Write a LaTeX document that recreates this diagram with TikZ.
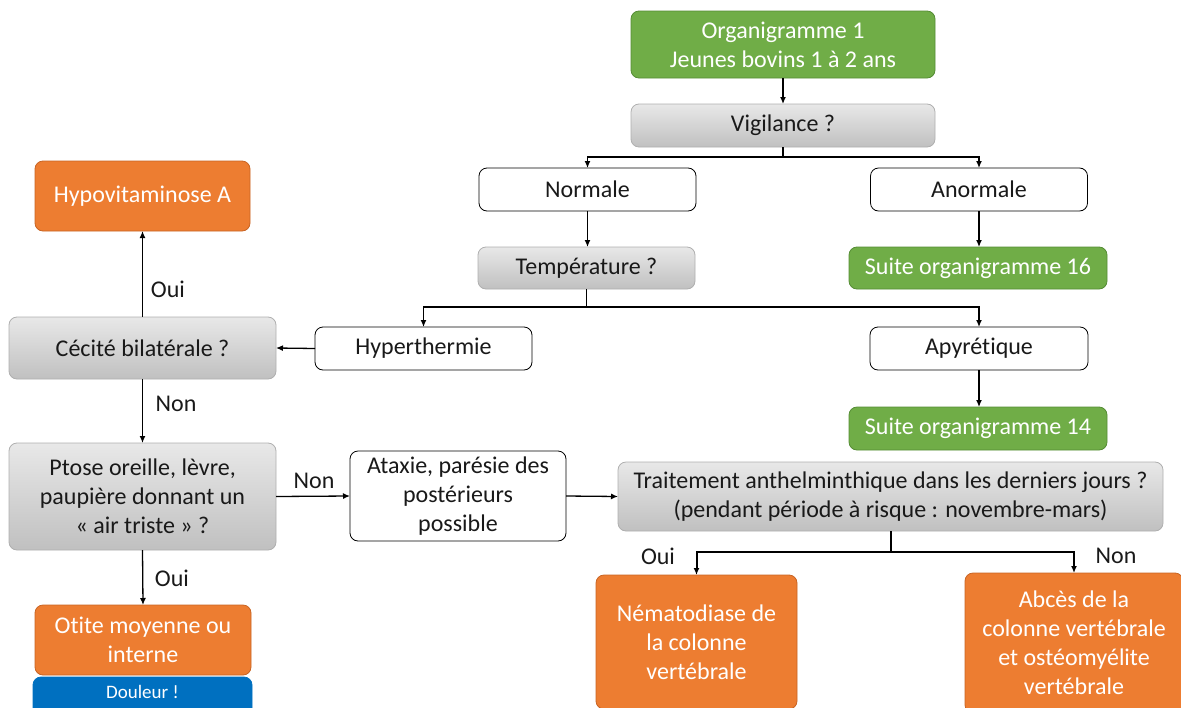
\documentclass[tikz,border=0pt]{standalone}
\usepackage{fontspec}
\setmainfont{Carlito}[Ligatures=NoCommon]
\usetikzlibrary{arrows.meta}
\definecolor{grnfill}{RGB}{112,173,71}
\definecolor{grnline}{RGB}{84,140,52}
\definecolor{orgfill}{RGB}{237,125,49}
\definecolor{orgline}{RGB}{200,100,35}
\definecolor{bluefill}{RGB}{0,112,192}
\definecolor{graytop}{RGB}{232,232,232}
\definecolor{graybot}{RGB}{192,192,192}
\definecolor{grayline}{RGB}{175,175,175}
\definecolor{txt}{RGB}{25,25,25}
\newcommand{\mainfs}{\fontsize{24}{29}\selectfont}
\tikzset{
  box/.style={rounded corners=8pt, inner sep=0pt, outer sep=0pt, align=center,
              font=\mainfs, line width=0.8pt},
  whitebox/.style={box, draw=black, fill=white, text=txt},
  graybox/.style={box, draw=grayline, top color=graytop, bottom color=graybot, text=txt},
  greenbox/.style={box, draw=grnline, fill=grnfill, text=white},
  orangebox/.style={box, draw=orgline, fill=orgfill, text=white},
  bluebox/.style={box, draw=bluefill, fill=bluefill},
  arr/.style={line width=1.3pt, -{Latex[length=7pt,width=6pt]}},
  thickarr/.style={line width=2pt, -{Latex[length=7pt,width=6pt]}},
  lbl/.style={font=\mainfs, text=txt, inner sep=0pt}
}
\begin{document}
\begin{tikzpicture}[x=1pt,y=-1pt]
\useasboundingbox (0,0) rectangle (1181,707);
\clip (0,0) rectangle (1181,707);

% top of the chart
\node[greenbox, minimum width=304, minimum height=67] (org) at (783,44.5)
  {Organigramme 1\\Jeunes bovins 1 à 2 ans};
\node[graybox, minimum width=304, minimum height=43] (vig) at (783,125.5) {Vigilance ?};
\node[whitebox, minimum width=217, minimum height=43] (norm) at (587.5,189.5) {Normale};
\node[whitebox, minimum width=217, minimum height=43] (anorm) at (979,189.5) {Anormale};
\node[graybox, minimum width=217, minimum height=42] (temp) at (586.5,268) {Température ?};
\node[greenbox, minimum width=258, minimum height=42] (s16) at (978,268) {Suite organigramme 16};
\node[whitebox, minimum width=217, minimum height=43] (hyper) at (423.5,348.5) {Hyperthermie};
\node[whitebox, minimum width=218, minimum height=43] (apy) at (979,348.5) {Apyrétique};
\node[greenbox, minimum width=258, minimum height=43] (s14) at (978,428.5) {Suite organigramme 14};

% left column
\node[orangebox, minimum width=215, minimum height=70] (hypo) at (142.5,196) {Hypovitaminose A};
\node[graybox, minimum width=267, minimum height=62] (cec) at (142.5,348) {Cécité bilatérale ?};
\node[graybox, minimum width=267, minimum height=107] (ptose) at (142.5,496.5)
  {Ptose oreille, lèvre,\\paupière donnant un\\« air triste » ?};
\node[orangebox, minimum width=216, minimum height=70] (otite) at (143,640)
  {Otite moyenne ou\\interne};
% the warning strip runs past the lower edge
\node[bluebox, minimum width=219, minimum height=40] (dol) at (142.5,697) {};
\node[text=white, font=\fontsize{19}{22}\selectfont, inner sep=0pt] (doltxt) at (142.5,692) {Douleur !};

% bottom row
\node[whitebox, minimum width=216, minimum height=90] (atax) at (458,496)
  {Ataxie, parésie des\\postérieurs\\possible};
\node[graybox, minimum width=545, minimum height=69] (trait) at (890.5,496.5)
  {Traitement anthelminthique dans les derniers jours ?\\(pendant période à risque : novembre-mars)};
\node[orangebox, minimum width=201, minimum height=134] (nema) at (696.5,642)
  {Nématodiase de\\la colonne\\vertébrale};
\node[orangebox, minimum width=218, minimum height=140] (abces) at (1074,643)
  {Abcès de la\\colonne vertébrale\\et ostéomyélite\\vertébrale};

% connectors
\draw[arr] (org.south) -- (vig.north);
\draw[arr] (vig.south) -- ++(0,10) -| (norm.north);
\draw[arr] (vig.south) -- ++(0,10) -| (anorm.north);
\draw[arr] (norm.south) -- (norm.south |- temp.north);
\draw[arr] (anorm.south) -- (anorm.south |- s16.north);
\draw[arr] (temp.south) -- ++(0,18) -| (hyper.north);
\draw[arr] (temp.south) -- ++(0,18) -| (apy.north);
\draw[arr] (apy.south) -- (apy.south |- s14.north);
\draw[arr] (hyper.west) -- (cec.east);
\draw[arr] (cec.north) -- (hypo.south);
\draw[arr] (cec.south) -- (ptose.north);
\draw[arr] (ptose.south) -- (otite.north);
\draw[arr] (ptose.east) -- (atax.west);
\draw[arr] (atax.east) -- (trait.west);
\draw[thickarr] (trait.south) -- ++(0,21) -| (nema.north);
\draw[thickarr] (trait.south) -- ++(0,21) -| (abces.north);

% branch labels
\node[lbl] (oui1) at (168,289) {Oui};
\node[lbl] (non1) at (176,404) {Non};
\node[lbl] (oui2) at (172,578) {Oui};
\node[lbl] (non2) at (314,481) {Non};
\node[lbl] (oui3) at (658,556) {Oui};
\node[lbl] (non3) at (1116,556) {Non};
\end{tikzpicture}
\end{document}
